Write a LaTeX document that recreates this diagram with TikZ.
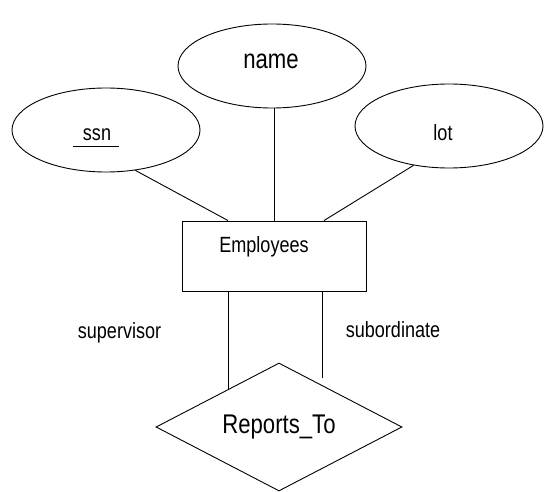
\documentclass[tikz,border=0pt]{standalone}
\usepackage{fontspec}
\setmainfont{Liberation Sans}[FakeStretch=0.82]
\usetikzlibrary{shapes.geometric}
\begin{document}
\begin{tikzpicture}[x=1pt,y=-1pt,line width=0.9pt,
  attr/.style={ellipse,draw,minimum width=188pt,minimum height=84pt,inner sep=0pt},
  entity/.style={rectangle,draw,minimum width=184pt,minimum height=70pt,inner sep=0pt},
  rel/.style={diamond,draw,aspect=1.92,minimum width=246pt,minimum height=128pt,inner sep=0pt,font=\fontsize{27}{31}\selectfont},
  lbl/.style={inner sep=0pt,anchor=base,font=\fontsize{22}{26}\selectfont},
  big/.style={lbl,font=\fontsize{27}{31}\selectfont}]
\useasboundingbox (0,0) rectangle (554,492);
% shapes
\node[attr] (ssn) at (106,130) {};
\node[attr] (name) at (272,66) {};
\node[attr] (lot) at (449,126) {};
\node[entity] (emp) at (274,256) {};
\node[rel] (rep) at (279,427) {Reports\_To};
% texts
\node[lbl] (ssnt) at (97,140) {ssn};
\node[big] (namet) at (271,69) {name};
\node[lbl] (lott) at (443,140) {lot};
\node[lbl] (empt) at (264,252) {Employees};
\node[lbl] (sup) at (119.5,338) {supervisor};
\node[lbl] (sub) at (393,337) {subordinate};
% key underline
\draw ([xshift=-10pt,yshift=-6pt]ssnt.base west) -- ([xshift=8pt,yshift=-6pt]ssnt.base east);
% connectors
\draw (ssn.-54) -- ([xshift=-46pt]emp.north);
\draw (name.south -| emp.north) -- (emp.north);
\draw (lot.-132) -- ([xshift=50pt]emp.north);
\draw (rep.143.7 |- emp.south) -- (rep.143.7);
\draw[shorten >=7pt] (rep.44 |- emp.south) -- (rep.44);
\end{tikzpicture}
\end{document}
